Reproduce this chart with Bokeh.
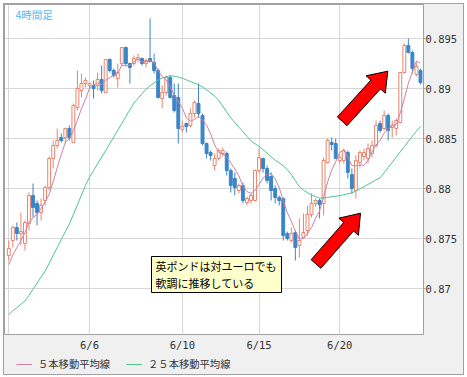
import numpy as np
from bokeh.plotting import figure
from bokeh.layouts import column
from bokeh.models import (ColumnDataSource, Range1d, FixedTicker, Legend, LegendItem,
                          Label, BoxAnnotation)
from bokeh.embed import file_html
from bokeh.resources import INLINE

# ---------------- data ----------------
tick_bars = [0, 20, 43, 62, 82]
tick_labels = ["", "6/6", "6/10", "6/15", "6/20"]
price_ticks = [0.87, 0.875, 0.88, 0.885, 0.89, 0.895]
price_tick_labels = ["0.87", "0.875", "0.88", "0.885", "0.89", "0.895"]

opens = [0.8733, 0.8748, 0.8761, 0.8755, 0.8745, 0.8765, 0.8793, 0.8785, 0.8776, 0.8788,
         0.8801, 0.8830, 0.8843, 0.8851, 0.8851, 0.8860, 0.8846, 0.8881, 0.8898, 0.8905,
         0.8903, 0.8903, 0.8903, 0.8909, 0.8896, 0.8929, 0.8918, 0.8910, 0.8925, 0.8941,
         0.8925, 0.8925, 0.8929, 0.8930, 0.8925, 0.8930, 0.8926, 0.8918, 0.8890, 0.8896,
         0.8911, 0.8893, 0.8891, 0.8859, 0.8865, 0.8863, 0.8875, 0.8885, 0.8873, 0.8845,
         0.8836, 0.8823, 0.8830, 0.8835, 0.8835, 0.8818, 0.8810, 0.8798, 0.8803, 0.8786,
         0.8788, 0.8788, 0.8818, 0.8830, 0.8820, 0.8812, 0.8800, 0.8791, 0.8790, 0.8755,
         0.8748, 0.8756, 0.8743, 0.8751, 0.8758, 0.8774, 0.8785, 0.8788, 0.8785, 0.8826,
         0.8846, 0.8845, 0.8828, 0.8828, 0.8836, 0.8814, 0.8798, 0.8826, 0.8832, 0.8830,
         0.8835, 0.8843, 0.8865, 0.8860, 0.8873, 0.8861, 0.8860, 0.8866, 0.8916, 0.8943,
         0.8936, 0.8914, 0.8918]
highs = [0.8748, 0.8763, 0.8766, 0.8776, 0.8768, 0.8796, 0.8805, 0.8788, 0.8790, 0.8803,
         0.8832, 0.8848, 0.8860, 0.8855, 0.8861, 0.8863, 0.8885, 0.8918, 0.8915, 0.8911,
         0.8906, 0.8908, 0.8916, 0.8923, 0.8929, 0.8930, 0.8920, 0.8925, 0.8941, 0.8942,
         0.8926, 0.8933, 0.8935, 0.8931, 0.8930, 0.8970, 0.8935, 0.8920, 0.8903, 0.8913,
         0.8913, 0.8905, 0.8905, 0.8868, 0.8866, 0.8880, 0.8888, 0.8905, 0.8875, 0.8846,
         0.8838, 0.8835, 0.8840, 0.8841, 0.8837, 0.8820, 0.8816, 0.8805, 0.8806, 0.8792,
         0.8795, 0.8819, 0.8840, 0.8831, 0.8823, 0.8816, 0.8803, 0.8793, 0.8791, 0.8757,
         0.8761, 0.8758, 0.8770, 0.8775, 0.8783, 0.8795, 0.8790, 0.8790, 0.8831, 0.8850,
         0.8851, 0.8850, 0.8834, 0.8840, 0.8838, 0.8820, 0.8833, 0.8838, 0.8840, 0.8845,
         0.8848, 0.8868, 0.8868, 0.8878, 0.8875, 0.8868, 0.8870, 0.8916, 0.8945, 0.8950,
         0.8938, 0.8926, 0.8920]
lows = [0.8728, 0.8741, 0.8748, 0.8743, 0.8738, 0.8758, 0.8771, 0.8763, 0.8768, 0.8783,
        0.8798, 0.8820, 0.8840, 0.8846, 0.8845, 0.8848, 0.8846, 0.8878, 0.8891, 0.8901,
        0.8900, 0.8890, 0.8898, 0.8895, 0.8896, 0.8916, 0.8911, 0.8901, 0.8923, 0.8923,
        0.8905, 0.8923, 0.8926, 0.8923, 0.8921, 0.8926, 0.8915, 0.8890, 0.8880, 0.8893,
        0.8890, 0.8876, 0.8845, 0.8856, 0.8856, 0.8861, 0.8871, 0.8871, 0.8843, 0.8830,
        0.8828, 0.8818, 0.8828, 0.8832, 0.8813, 0.8796, 0.8793, 0.8795, 0.8785, 0.8783,
        0.8785, 0.8787, 0.8815, 0.8816, 0.8805, 0.8788, 0.8785, 0.8783, 0.8748, 0.8748,
        0.8746, 0.8728, 0.8731, 0.8750, 0.8753, 0.8771, 0.8782, 0.8770, 0.8773, 0.8825,
        0.8838, 0.8830, 0.8825, 0.8825, 0.8810, 0.8795, 0.8790, 0.8821, 0.8828, 0.8825,
        0.8831, 0.8841, 0.8856, 0.8858, 0.8848, 0.8851, 0.8853, 0.8865, 0.8915, 0.8935,
        0.8915, 0.8912, 0.8904]
closes = [0.8740, 0.8761, 0.8755, 0.8757, 0.8766, 0.8793, 0.8781, 0.8776, 0.8783, 0.8801,
          0.8830, 0.8843, 0.8848, 0.8848, 0.8860, 0.8851, 0.8883, 0.8900, 0.8905, 0.8908,
          0.8905, 0.8900, 0.8909, 0.8898, 0.8929, 0.8918, 0.8913, 0.8916, 0.8941, 0.8925,
          0.8921, 0.8930, 0.8931, 0.8925, 0.8928, 0.8927, 0.8918, 0.8891, 0.8896, 0.8911,
          0.8891, 0.8878, 0.8860, 0.8862, 0.8862, 0.8875, 0.8886, 0.8875, 0.8845, 0.8835,
          0.8833, 0.8830, 0.8838, 0.8838, 0.8818, 0.8803, 0.8801, 0.8803, 0.8788, 0.8790,
          0.8793, 0.8818, 0.8831, 0.8820, 0.8808, 0.8798, 0.8791, 0.8788, 0.8753, 0.8750,
          0.8755, 0.8741, 0.8748, 0.8756, 0.8774, 0.8785, 0.8788, 0.8784, 0.8828, 0.8848,
          0.8844, 0.8830, 0.8831, 0.8838, 0.8816, 0.8800, 0.8828, 0.8836, 0.8836, 0.8840,
          0.8843, 0.8863, 0.8858, 0.8873, 0.8858, 0.8863, 0.8868, 0.8916, 0.8943, 0.8936,
          0.8920, 0.8922, 0.8906]
# closes of the four bars just before the first visible one (for the 5-bar average)
prev_closes = [0.8712, 0.8718, 0.8722, 0.8727]
# 25-bar moving average
ma25 = [0.86740, 0.86776, 0.86809, 0.86842, 0.86875, 0.86932, 0.86993, 0.87053, 0.87114, 0.87174,
        0.87252, 0.87331, 0.87410, 0.87489, 0.87568, 0.87647, 0.87739, 0.87837, 0.87934, 0.88031,
        0.88113, 0.88180, 0.88247, 0.88314, 0.88380, 0.88447, 0.88514, 0.88583, 0.88651, 0.88720,
        0.88788, 0.88855, 0.88901, 0.88947, 0.88993, 0.89028, 0.89056, 0.89084, 0.89105, 0.89117,
        0.89129, 0.89122, 0.89114, 0.89103, 0.89086, 0.89070, 0.89054, 0.89038, 0.89016, 0.88987,
        0.88955, 0.88923, 0.88883, 0.88824, 0.88765, 0.88707, 0.88660, 0.88614, 0.88568, 0.88521,
        0.88477, 0.88448, 0.88420, 0.88388, 0.88353, 0.88318, 0.88283, 0.88258, 0.88226, 0.88191,
        0.88138, 0.88077, 0.88017, 0.87983, 0.87959, 0.87936, 0.87919, 0.87903, 0.87905, 0.87911,
        0.87917, 0.87923, 0.87929, 0.87938, 0.87947, 0.87956, 0.87974, 0.87997, 0.88019, 0.88041,
        0.88063, 0.88086, 0.88108, 0.88157, 0.88210, 0.88262, 0.88315, 0.88367, 0.88419, 0.88470,
        0.88522, 0.88574, 0.88620]

legend_labels = ["５本移動平均線", "２５本移動平均線"]
period_label = "4時間足"
note_lines = ["英ポンドは対ユーロでも", "軟調に推移している"]

# ---------------- layout / scales ----------------
BAR0_PX, BAR_PX = 8.3, 4.036          # reference pixel of bar 0 and bar spacing
PRICE0, PX_PER_PRICE = 0.8988, 10000.0
FRAME_L, FRAME_R, FRAME_T, FRAME_B = 4, 423, 4, 334
RIGHT_W, AXIS_H, LEGEND_H = 40, 18, 21

def sx(px):
    return (px - BAR0_PX) / BAR_PX

def sy(py):
    return PRICE0 - py / PX_PER_PRICE

x_start, x_end = sx(FRAME_L), sx(FRAME_R)
y_top, y_bot = sy(FRAME_T), sy(FRAME_B)

UP = "#e8846d"
DOWN = "#3a85c7"
MA5_C = "#d07fa6"
MA25_C = "#4cc68c"
PANEL = "#f0f0f0"
CJK = "Noto Sans CJK JP"
MONO = "DejaVu Sans Mono"

n = len(closes)
idx = np.arange(n)
o = np.array(opens); h = np.array(highs); l = np.array(lows); c = np.array(closes)
up = c >= o
allc = np.array(prev_closes + closes)
ma5 = np.convolve(allc, np.ones(5) / 5, mode="valid")

p = figure(frame_width=FRAME_R - FRAME_L, frame_height=FRAME_B - FRAME_T,
           x_range=Range1d(x_start, x_end), y_range=Range1d(y_bot, y_top),
           y_axis_location="right", toolbar_location=None, output_backend="svg",
           min_border_left=0, min_border_top=0, min_border_right=RIGHT_W,
           min_border_bottom=AXIS_H)
p.background_fill_color = "white"
p.border_fill_color = PANEL
p.outline_line_color = "#a0a0a0"
p.outline_line_width = 1

# grid
p.xgrid.ticker = FixedTicker(ticks=tick_bars)
p.ygrid.ticker = FixedTicker(ticks=price_ticks)
for g in (p.xgrid[0], p.ygrid[0]):
    g.grid_line_color = "#d6d6d6"
    g.grid_line_width = 1

# axes
xa = p.xaxis[0]
xa.ticker = FixedTicker(ticks=tick_bars)
xa.major_label_overrides = {t: s for t, s in zip(tick_bars, tick_labels)}
xa.axis_line_color = None
xa.major_tick_line_color = None
xa.minor_tick_line_color = None
xa.major_tick_out = 0
xa.major_label_standoff = 4
xa.major_label_text_font = MONO
xa.major_label_text_font_size = "10.5px"
xa.major_label_text_color = "#333333"

ya = p.yaxis[0]
ya.ticker = FixedTicker(ticks=price_ticks)
ya.major_label_overrides = {t: s for t, s in zip(price_ticks, price_tick_labels)}
ya.axis_line_color = None
ya.major_tick_line_color = "#a0a0a0"
ya.major_tick_out = 2
ya.major_tick_in = 0
ya.minor_tick_line_color = None
ya.major_label_standoff = 0
ya.major_label_text_font = MONO
ya.major_label_text_font_size = "10.5px"
ya.major_label_text_color = "#333333"

# candles
src = ColumnDataSource(dict(x=idx, o=o, h=h, l=l, c=c,
                            top=np.maximum(o, c), bottom=np.minimum(o, c),
                            fill=np.where(up, "white", DOWN),
                            line=np.where(up, UP, DOWN)))
p.segment(x0="x", y0="l", x1="x", y1="h", line_color="line", line_width=1, source=src)
p.vbar(x="x", width=0.72, top="top", bottom="bottom", fill_color="fill",
       line_color="line", line_width=1, source=src)

# moving averages
p.line(idx, ma5, line_color=MA5_C, line_width=1)
p.line(idx, ma25, line_color=MA25_C, line_width=1)

# arrows (annotations)
kx = (FRAME_R - FRAME_L) / (x_end - x_start)
ky = (FRAME_B - FRAME_T) / (y_top - y_bot)
arrow_specs = [((sx(341.7), sy(120.8)), (sx(387.3), sy(70.7))),
               ((sx(315.5), sy(263.5)), (sx(360.0), sy(212.7)))]

def arrow_poly(tail, tip, shaft=13.0, head_w=26.0, head_l=18.0):
    T = np.array([tail[0] * kx, tail[1] * ky])
    P = np.array([tip[0] * kx, tip[1] * ky])
    d = P - T
    u = d / np.hypot(*d)
    nrm = np.array([-u[1], u[0]])
    B = P - u * head_l
    pts = [T + nrm * shaft / 2, B + nrm * shaft / 2, B + nrm * head_w / 2, P,
           B - nrm * head_w / 2, B - nrm * shaft / 2, T - nrm * shaft / 2]
    xs = [q[0] / kx for q in pts]
    ys = [q[1] / ky for q in pts]
    return xs, ys

for tail, tip in arrow_specs:
    xs, ys = arrow_poly(tail, tip)
    p.patch(xs, ys, fill_color="#ff0000", line_color="black", line_width=1)

# note box
p.add_layout(BoxAnnotation(left=sx(151), right=sx(281), top=sy(256), bottom=sy(292),
                           fill_color="#ffffcc", fill_alpha=1, line_color="black",
                           line_alpha=1, line_width=1))
for txt, py in zip(note_lines, [265, 282]):
    p.add_layout(Label(x=sx(155), y=sy(py), text=txt, text_baseline="middle",
                       text_align="left", text_font=CJK, text_font_size="11px",
                       text_color="black"))

p.add_layout(Label(x=sx(15), y=sy(6), text=period_label, text_baseline="top",
                   text_align="left", text_font=CJK, text_font_size="10.5px",
                   text_color="#4fb9ef"))

# ---------------- legend strip (own small figure, so nothing is clipped) ----------------
lg = figure(width=FRAME_R - FRAME_L + RIGHT_W, height=LEGEND_H,
            x_range=Range1d(-3, -2), y_range=Range1d(-3, -2),
            x_axis_type=None, y_axis_type=None, toolbar_location=None,
            output_backend="svg", min_border=0)
lg.background_fill_color = PANEL
lg.border_fill_color = PANEL
lg.outline_line_color = None
lg.grid.visible = False
# legend keys reuse the moving-average series, which lie outside this strip's range
k5 = lg.line(idx, ma5, line_color=MA5_C, line_width=1)
k25 = lg.line(idx, ma25, line_color=MA25_C, line_width=1)
legend = Legend(items=[LegendItem(label=legend_labels[0], renderers=[k5]),
                       LegendItem(label=legend_labels[1], renderers=[k25])],
                orientation="horizontal", location=(12, 3), margin=0, padding=0,
                spacing=16, glyph_width=16, glyph_height=14, label_height=14,
                label_standoff=6, label_text_font=CJK, label_text_font_size="10.3px",
                label_text_color="#333333", border_line_color=None,
                background_fill_alpha=0)
lg.add_layout(legend, "center")

layout = column(p, lg, spacing=0, margin=(3, 0, 0, 3),
                styles={"border": "1px solid #a0a0a0", "background-color": PANEL})

open("out.html", "w").write(file_html(layout, INLINE))
